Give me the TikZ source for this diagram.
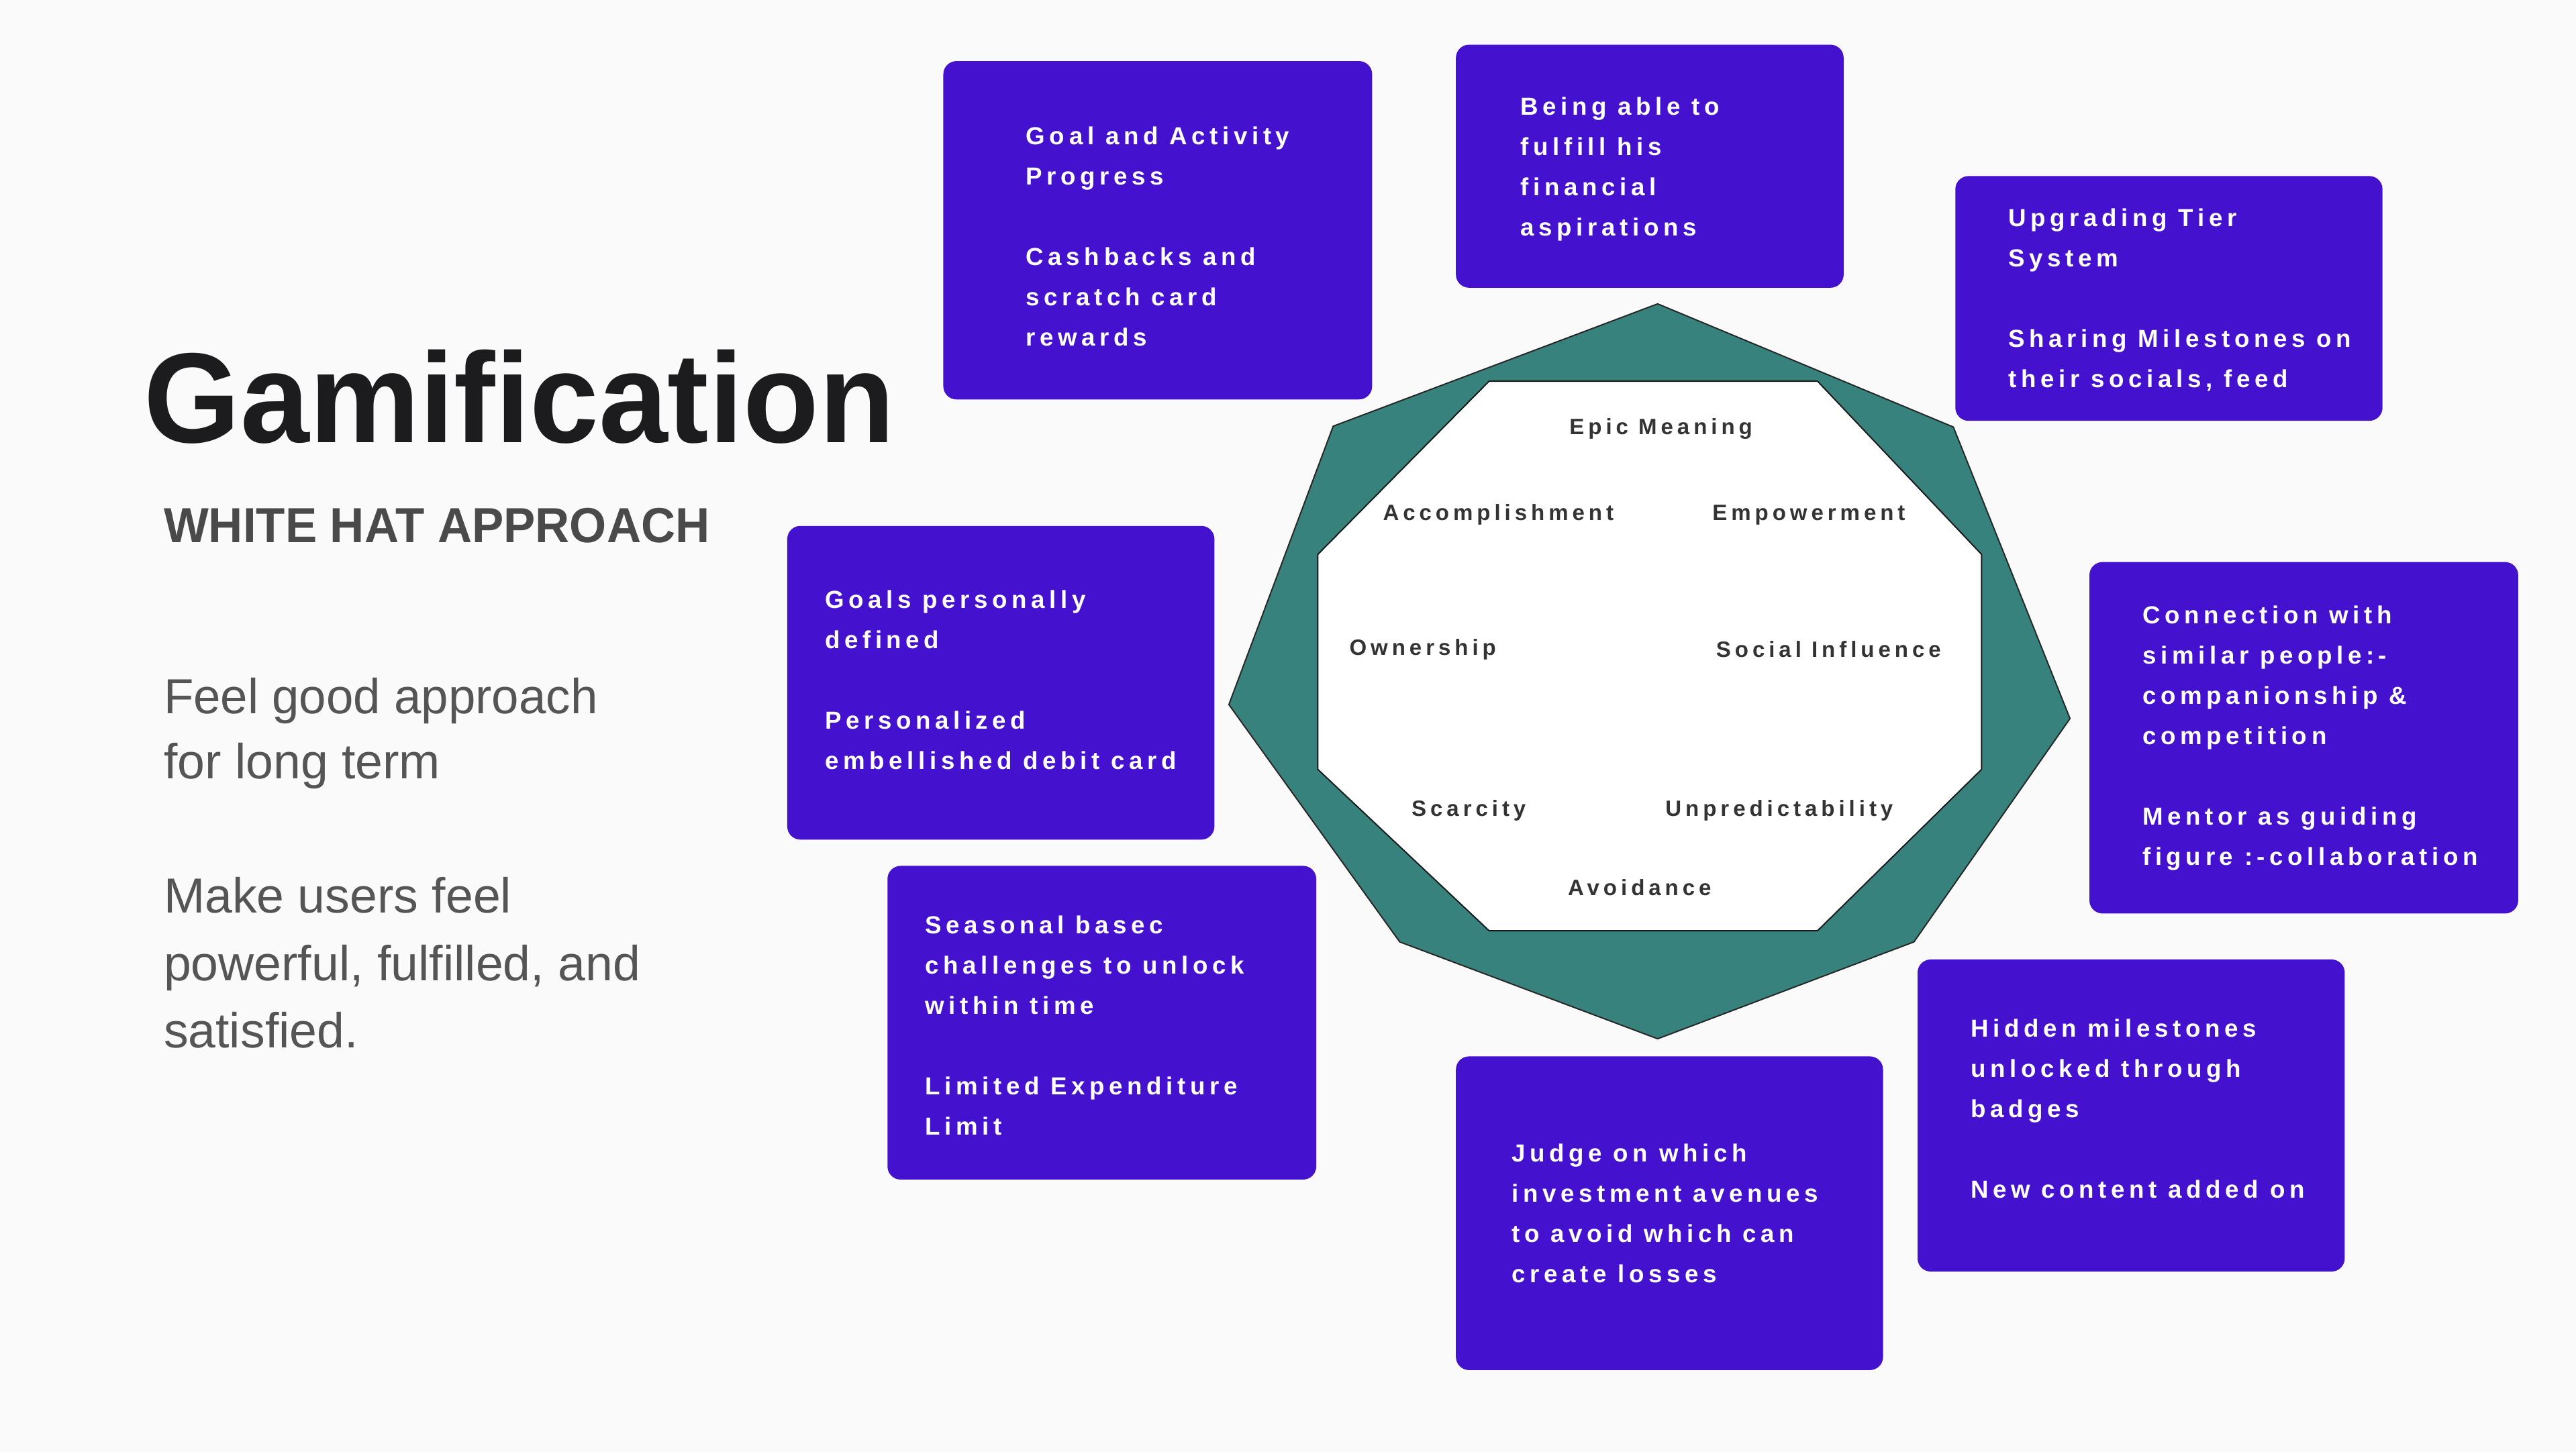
\documentclass[tikz,border=0pt]{standalone}
\usepackage{fontspec}
\usepackage{graphicx}
\setmainfont{Liberation Sans}
\newfontfamily\boxfont{Liberation Sans}[LetterSpace=18]
\definecolor{bg}{HTML}{FAFAFA}
\definecolor{purp}{HTML}{4411CE}
\definecolor{teal}{HTML}{37827C}
\definecolor{titlec}{HTML}{1C1C1E}
\definecolor{subc}{HTML}{4A4A4A}
\definecolor{bodyc}{HTML}{555555}
\definecolor{labc}{HTML}{333333}
\newcommand\lns[1]{\vtop{\baselineskip=24.5pt\lineskiplimit=-20pt #1}}
\begin{document}
\begin{tikzpicture}[x=1pt,y=-1pt,
  pbox/.style={fill=purp, rounded corners=8pt, anchor=north west, inner sep=0pt, draw=none},
  btxt/.style={anchor=base west, inner sep=0pt, text=white, font=\boxfont\bfseries\fontsize{15}{24.5}\selectfont},
  olab/.style={anchor=base, inner sep=0pt, text=labc, font=\boxfont\bfseries\fontsize{13.5}{16}\selectfont},
  body/.style={anchor=base west, inner sep=0pt, text=bodyc, font=\fontsize{30}{41}\selectfont}]
\fill[bg] (0,0) rectangle (1568,884);
\useasboundingbox (0,0) rectangle (1568,884);

% title block
\node[anchor=base west, inner sep=0pt, text=titlec, font=\bfseries\fontsize{78}{80}\selectfont] (title) at (87.6,269.4) {\scalebox{0.967}[1]{Gamification}};
\node[anchor=base west, inner sep=0pt, text=subc, font=\bfseries\fontsize{30}{32}\selectfont] (sub) at (99.5,330.3) {\scalebox{0.965}[1]{WHITE HAT APPROACH}};
\node[body] (feel) at (99.5,434.3) {\vtop{\baselineskip=40pt\hbox{\scalebox{0.99}[1]{Feel good approach}}\hbox{for long term}}};
\node[body] (make) at (99.5,556) {\vtop{\baselineskip=41pt\hbox{Make users feel}\hbox{powerful, fulfilled, and}\hbox{satisfied.}}};

% octagon
\draw[fill=teal, draw=black!85, line width=0.8pt, line join=miter] (1009,185) -- (1189,260) -- (1260,437.5) -- (1165,573.5) -- (1009,632.5) -- (852,573.5) -- (748,429) -- (811.5,259.5) -- cycle;
\draw[fill=white, draw=black!90, line width=0.8pt] (906.4,232.1) -- (1106.3,232.1) -- (1206.2,337.6) -- (1206.2,468.4) -- (1106.3,566.7) -- (906.4,566.7) -- (802.1,468.4) -- (802.1,337.6) -- cycle;

\node[olab] (l1) at (1011,264.5) {Epic Meaning};
\node[olab] (l2) at (912,317) {Accomplishment};
\node[olab] (l3) at (1101,317) {Empowerment};
\node[olab] (l4) at (866,399) {Ownership};
\node[olab] (l5) at (1113,400) {Social Influence};
\node[olab] (l6) at (894,497) {Scarcity};
\node[olab] (l7) at (1083,497) {Unpredictability};
\node[olab] (l8) at (998,545) {Avoidance};

% boxes
\node[pbox, minimum width=261pt, minimum height=206pt] (bA) at (574,37) {};
\node[btxt] (tA) at (624.4,88.1) {\lns{\hbox{Goal and Activity}\hbox{Progress}\hbox{}\hbox{Cashbacks and}\hbox{scratch card}\hbox{rewards}}};

\node[pbox, minimum width=236pt, minimum height=148pt] (bB) at (886,27) {};
\node[btxt] (tB) at (925.4,69.9) {\lns{\hbox{Being able to}\hbox{fulfill his}\hbox{financial}\hbox{aspirations}}};

\node[pbox, minimum width=260pt, minimum height=149pt] (bC) at (1190,107) {};
\node[btxt] (tC) at (1222.4,137.8) {\lns{\hbox{Upgrading Tier}\hbox{System}\hbox{}\hbox{Sharing Milestones on}\hbox{their socials, feed}}};

\node[pbox, minimum width=260pt, minimum height=191pt] (bD) at (479,320) {};
\node[btxt] (tD) at (502,370.5) {\lns{\hbox{Goals personally}\hbox{defined}\hbox{}\hbox{Personalized}\hbox{embellished debit card}}};

\node[pbox, minimum width=261pt, minimum height=214pt] (bE) at (1271.6,342) {};
\node[btxt] (tE) at (1304,379.8) {\lns{\hbox{Connection with}\hbox{similar people:-}\hbox{companionship \&}\hbox{competition}\hbox{}\hbox{Mentor as guiding}\hbox{figure :-collaboration}}};

\node[pbox, minimum width=261pt, minimum height=191pt] (bF) at (540,527) {};
\node[btxt] (tF) at (563,568.5) {\lns{\hbox{Seasonal basec}\hbox{challenges to unlock}\hbox{within time}\hbox{}\hbox{Limited Expenditure}\hbox{Limit}}};

\node[pbox, minimum width=260pt, minimum height=191pt] (bG) at (886,643) {};
\node[btxt] (tG) at (920,707.5) {\lns{\hbox{Judge on which}\hbox{investment avenues}\hbox{to avoid which can}\hbox{create losses}}};

\node[pbox, minimum width=260pt, minimum height=190pt] (bH) at (1167,584) {};
\node[btxt] (tH) at (1199.4,631.5) {\lns{\hbox{Hidden milestones}\hbox{unlocked through}\hbox{badges}\hbox{}\hbox{New content added on}}};
\end{tikzpicture}
\end{document}
